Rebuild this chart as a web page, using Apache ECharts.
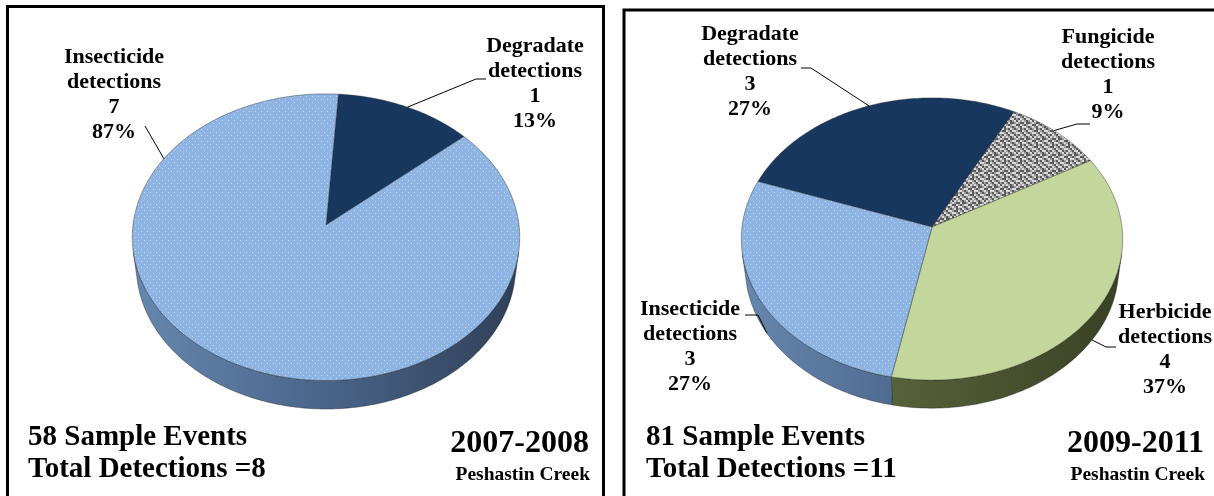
<!DOCTYPE html>
<html>
<head>
<meta charset="utf-8">
<script src="https://cdn.jsdelivr.net/npm/echarts@6/dist/echarts.min.js"></script>
<style>
  html, body { margin: 0; padding: 0; background: #fff; }
  #chart { width: 1214px; height: 496px; }
</style>
</head>
<body>
<div id="chart"></div>
<script>
// Pesticide detections by class at Peshastin Creek, two sampling periods
const categories2007 = ['Degradate detections', 'Insecticide detections'];
const counts2007 = [1, 7];
const percentLabels2007 = ['13%', '87%'];

const categories2009 = ['Degradate detections', 'Fungicide detections', 'Herbicide detections', 'Insecticide detections'];
const counts2009 = [3, 1, 4, 3];
const percentLabels2009 = ['27%', '9%', '37%', '27%'];

const sampleEvents = [58, 81];
const periods = ['2007-2008', '2009-2011'];
const siteName = 'Peshastin Creek';

// ---- view of the tilted 3-D disc (camera distance in radii, elevation, thickness) ----
const VIEW = { k: 7.93, alpha: 47.5 * Math.PI / 180, t: 0.23 };
const SIN_A = Math.sin(VIEW.alpha), COS_A = Math.cos(VIEW.alpha);
const SIDE_HALF = Math.acos(1 / (VIEW.k * COS_A)) * 180 / Math.PI;   // visible rim half-width around the front
const SIDE_LO = 180 - SIDE_HALF, SIDE_HI = 180 + SIDE_HALF;

// angle measured clockwise from the back of the disc, r in radii, h = 0 top face / 1 bottom edge
function project(pie, phiDeg, r, h) {
  const a = phiDeg * Math.PI / 180;
  const X = r * Math.sin(a), Z = -r * Math.cos(a), H = -h * VIEW.t;
  const depth = VIEW.k - (H * SIN_A + Z * COS_A);
  const up = H * COS_A - Z * SIN_A;
  return [pie.cx + pie.s * VIEW.k * X / depth, pie.cy - pie.s * VIEW.k * up / depth];
}

// ---- fills ----
function makeTile(size, draw) {
  const c = document.createElement('canvas');
  c.width = size; c.height = size;
  draw(c.getContext('2d'));
  return { image: c, repeat: 'repeat' };
}
const dotted = makeTile(6, ctx => {
  ctx.fillStyle = '#8DB4E2'; ctx.fillRect(0, 0, 6, 6);
  ctx.fillStyle = '#C4D9F2';
  ctx.fillRect(0, 0, 1, 1); ctx.fillRect(3, 3, 1, 1);
});
// speckled grey weave, 2px cells
const granite = makeTile(16, ctx => {
  const rows = ['kwgkgwkg', 'gkwwgkkw', 'wgkgwwgk', 'kwwkgkwg', 'gkgwkwgw', 'wkkgwgkk', 'kgwwkkwg', 'wgkgwgkw'];
  const col = { k: '#595959', w: '#DADADA', g: '#9C9C9C' };
  rows.forEach((row, y) => row.split('').forEach((ch, x) => { ctx.fillStyle = col[ch]; ctx.fillRect(x * 2, y * 2, 2, 2); }));
});

const topFill = {
  'Degradate detections': '#17375E',
  'Fungicide detections': granite,
  'Herbicide detections': '#C3D69B',
  'Insecticide detections': dotted
};
const sideStops = {
  'Degradate detections': ['#2A4468', '#182D4A', '#0E1D33'],
  'Fungicide detections': ['#8A8A8A', '#666666', '#4A4A4A'],
  'Herbicide detections': ['#6E7C4A', '#515C37', '#394124'],
  'Insecticide detections': ['#6787AF', '#4A6489', '#2E4058']
};

// ---- placement of each pie and its labels ----
const FONT_LABEL = 'bold 22px "Liberation Serif", "Times New Roman", serif';
const LABEL_LH = 25;
const pies = [
  {
    cx: 326, cy: 225, s: 193, start: 4,
    categories: categories2007, counts: counts2007, pct: percentLabels2007,
    labels: [
      { x: 535, base: 54, leader: [[486, 79], [476, 79]], anchor: [27, 0] },
      { x: 114, base: 65, leader: [[145, 126]], anchor: [299, 0] }
    ]
  },
  {
    cx: 932, cy: 227, s: 190, start: 289.5,
    categories: categories2009, counts: counts2009, pct: percentLabels2009,
    labels: [
      { x: 750, base: 42, leader: [[801, 68], [811, 68]], anchor: [339, 0] },
      { x: 1108, base: 45, leader: [[1090, 124], [1077, 124]], anchor: [43, 0] },
      { x: 1165, base: 320, leader: [[1116, 347], [1106, 347]], anchor: [125, 1] },
      { x: 690, base: 317, leader: [[745, 315], [758, 315]], anchor: [238, 1] }
    ]
  }
];

function arc(pie, a1, a2, h) {
  const n = Math.max(2, Math.ceil(Math.abs(a2 - a1)) + 1);
  const pts = [];
  for (let i = 0; i < n; i++) pts.push(project(pie, a1 + (a2 - a1) * i / (n - 1), 1, h));
  return pts;
}

function makeRenderer(pie) {
  const total = pie.counts.reduce((a, b) => a + b, 0);
  return function (params, api) {
    const i = params.dataIndex;
    const before = pie.counts.slice(0, i).reduce((a, b) => a + b, 0);
    const a1 = pie.start + 360 * before / total;
    const a2 = a1 + 360 * api.value(0) / total;
    const name = pie.categories[i];
    const children = [];

    // rim of the slice, only the part that faces the viewer
    [-360, 0, 360].forEach(off => {
      const lo = Math.max(a1, SIDE_LO + off), hi = Math.min(a2, SIDE_HI + off);
      if (hi > lo) {
        const pts = arc(pie, lo, hi, 0).concat(arc(pie, hi, lo, 1));
        const st = sideStops[name];
        children.push({
          type: 'polygon', z2: 1,
          shape: { points: pts },
          style: {
            fill: {
              type: 'linear', x: pie.cx - pie.s, y: 0, x2: pie.cx + pie.s, y2: 0, global: true,
              colorStops: [{ offset: 0, color: st[0] }, { offset: 0.5, color: st[1] }, { offset: 1, color: st[2] }]
            },
            stroke: 'rgba(25,25,25,0.55)', lineWidth: 0.7
          }
        });
      }
    });

    // top face
    const top = [project(pie, a1, 0, 0)].concat(arc(pie, a1, a2, 0));
    children.push({
      type: 'polygon', z2: 5,
      shape: { points: top },
      style: { fill: topFill[name], stroke: 'rgba(35,35,35,0.6)', lineWidth: 0.7 }
    });

    // data label with leader line
    const lab = pie.labels[i];
    const end = project(pie, lab.anchor[0], 1, lab.anchor[1]);
    children.push({
      type: 'polyline', z2: 8,
      shape: { points: lab.leader.concat([end]) },
      style: { stroke: '#000', lineWidth: 1, fill: null }
    });
    const lines = name.split(' ').concat([String(api.value(0)), pie.pct[i]]);
    lines.forEach((txt, j) => {
      children.push({
        type: 'text', z2: 9,
        style: {
          text: txt, x: lab.x, y: lab.base + j * LABEL_LH - 7.4,
          font: FONT_LABEL, fill: '#000', align: 'center', verticalAlign: 'middle'
        }
      });
    });
    return { type: 'group', children };
  };
}

// ---- captions inside each framed panel ----
const FONT_BIG = 'bold 29px "Liberation Serif", "Times New Roman", serif';
const FONT_YEAR = 'bold 32px "Liberation Serif", "Times New Roman", serif';
const FONT_SITE = 'bold 19.5px "Liberation Serif", "Times New Roman", serif';
const panels = [
  { box: { x: 7.5, y: 6.5, width: 596, height: 520 }, left: 28, right: 589, events: sampleEvents[0], counts: counts2007, period: periods[0] },
  { box: { x: 624, y: 10, width: 620, height: 520 }, left: 646, right: 1204, events: sampleEvents[1], counts: counts2009, period: periods[1] }
];
const graphics = [];
panels.forEach(p => {
  const totalDet = p.counts.reduce((a, b) => a + b, 0);
  graphics.push({ type: 'rect', shape: p.box, style: { fill: 'none', stroke: '#000', lineWidth: 3 } });
  graphics.push({ type: 'text', x: p.left, y: 438, style: { text: p.events + ' Sample Events', font: FONT_BIG, fill: '#000', align: 'left', verticalAlign: 'middle' } });
  graphics.push({ type: 'text', x: p.left, y: 470, style: { text: 'Total Detections =' + totalDet, font: FONT_BIG, fill: '#000', align: 'left', verticalAlign: 'middle' } });
  graphics.push({ type: 'text', x: p.right, y: 444, style: { text: p.period, font: FONT_YEAR, fill: '#000', align: 'right', verticalAlign: 'middle' } });
  graphics.push({ type: 'text', x: p.right + 1, y: 475, style: { text: siteName, font: FONT_SITE, fill: '#000', align: 'right', verticalAlign: 'middle' } });
});

const chart = echarts.init(document.getElementById('chart'), null, { renderer: 'canvas' });
chart.setOption({
  backgroundColor: '#ffffff',
  animation: false,
  graphic: graphics,
  series: pies.map(pie => ({
    type: 'custom',
    coordinateSystem: 'none',
    silent: true,
    data: pie.counts.map((v, i) => ({ name: pie.categories[i], value: [v] })),
    renderItem: makeRenderer(pie)
  }))
});
</script>
</body>
</html>
